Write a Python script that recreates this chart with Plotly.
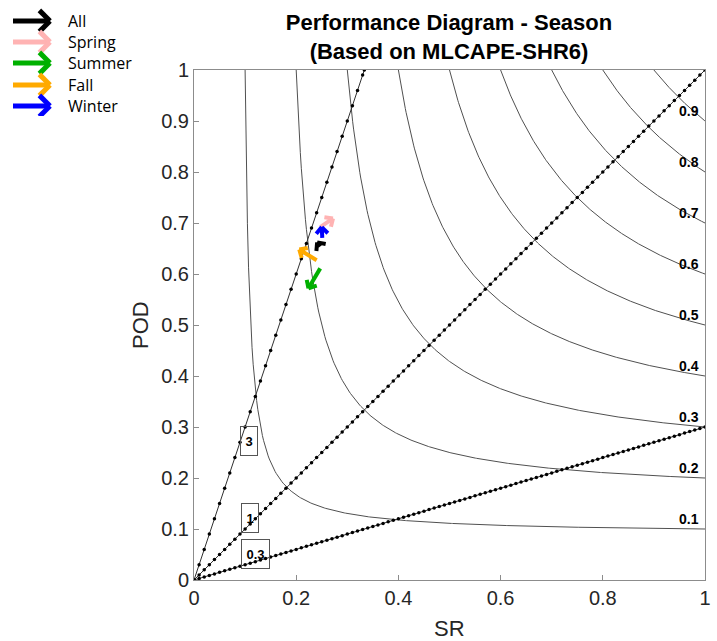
import numpy as np
import plotly.graph_objects as go

# ---------------- data ----------------
seasons = ["All", "Spring", "Summer", "Fall", "Winter"]
season_colors = ["#000000", "#ffb3b3", "#00b000", "#ffaa00", "#0000ff"]
sr_tail = [0.247, 0.247, 0.247, 0.240, 0.251]
pod_tail = [0.654, 0.692, 0.611, 0.627, 0.671]
sr_tip = [0.241, 0.272, 0.224, 0.206, 0.250]
pod_tip = [0.662, 0.709, 0.572, 0.648, 0.692]

csi_levels = [0.1, 0.2, 0.3, 0.4, 0.5, 0.6, 0.7, 0.8, 0.9]
csi_labels = ["0.1", "0.2", "0.3", "0.4", "0.5", "0.6", "0.7", "0.8", "0.9"]
bias_levels = [0.3, 1.0, 3.0]
bias_labels = ["0.3", "1", "3"]

x_tickvals = [0, 0.2, 0.4, 0.6, 0.8, 1]
x_ticktext = ["0", "0.2", "0.4", "0.6", "0.8", "1"]
y_tickvals = [0, 0.1, 0.2, 0.3, 0.4, 0.5, 0.6, 0.7, 0.8, 0.9, 1]
y_ticktext = ["0", "0.1", "0.2", "0.3", "0.4", "0.5", "0.6", "0.7", "0.8", "0.9", "1"]

# ---------------- figure ----------------
fig = go.Figure()

# CSI contours: POD = 1 / (1/CSI + 1 - 1/SR), from (CSI,1) to (1,CSI)
for c in csi_levels:
    sr = np.linspace(c, 1.0, 400)
    pod = 1.0 / (1.0 / c + 1.0 - 1.0 / sr)
    fig.add_trace(go.Scatter(x=sr, y=pod, mode="lines",
                             line=dict(color="#505050", width=1),
                             hoverinfo="skip", showlegend=False))

# bias lines: POD = bias * SR
for b in bias_levels:
    sr_max = min(1.0, 1.0 / b)
    sr = np.append(np.arange(0, sr_max, 0.01), sr_max)
    fig.add_trace(go.Scatter(x=sr, y=b * sr, mode="lines+markers",
                             line=dict(color="#303030", width=1),
                             marker=dict(color="#000000", size=3.5),
                             hoverinfo="skip", showlegend=False))

# arrows (shaft + chevron head)
def arrow_path(x0, y0, x1, y1, head, ang_deg=42):
    dx, dy = x1 - x0, y1 - y0
    n = np.hypot(dx, dy)
    ux, uy = dx / n, dy / n
    xs, ys = [x0, x1], [y0, y1]
    for s in (1, -1):
        a = np.radians(ang_deg) * s
        rx = ux * np.cos(a) - uy * np.sin(a)
        ry = ux * np.sin(a) + uy * np.cos(a)
        xs += [None, x1 - head * rx, x1]
        ys += [None, y1 - head * ry, y1]
    return xs, ys

for i, name in enumerate(seasons):
    xs, ys = arrow_path(sr_tail[i], pod_tail[i], sr_tip[i], pod_tip[i], 0.017)
    fig.add_trace(go.Scatter(x=xs, y=ys, mode="lines",
                             line=dict(color=season_colors[i], width=4),
                             hoverinfo="skip", showlegend=False))

# legend drawn in a pixel-unit overlay axis
leg_y = [21, 42, 63, 85, 106]
for i, name in enumerate(seasons):
    xs, ys = arrow_path(13, leg_y[i], 50, leg_y[i], 15, ang_deg=45)
    fig.add_trace(go.Scatter(x=xs, y=ys, mode="lines",
                             line=dict(color=season_colors[i], width=5),
                             xaxis="x2", yaxis="y2",
                             hoverinfo="skip", showlegend=False))
    fig.add_annotation(x=66, y=leg_y[i], xref="x2", yref="y2", text=name,
                       showarrow=False, xanchor="left", yanchor="middle",
                       font=dict(family="Open Sans", size=16, color="#000000"))

# CSI labels on the right
for c, lab in zip(csi_levels, csi_labels):
    fig.add_annotation(x=0.968, y=c + 0.019, text="<b>%s</b>" % lab,
                       showarrow=False, xanchor="center", yanchor="middle",
                       font=dict(family="Liberation Sans", size=14, color="#000000"))

# bias labels in boxes
bias_pos = {"3": (0.108, 0.2725), "1": (0.109, 0.121), "0.3": (0.121, 0.051)}
for lab in bias_labels:
    bx, by = bias_pos[lab]
    fig.add_annotation(x=bx, y=by, text="<b>%s</b>" % lab, showarrow=False,
                       xanchor="center", yanchor="middle",
                       font=dict(family="Liberation Sans", size=13, color="#000000"),
                       bordercolor="#555555", borderwidth=1, borderpad=3,
                       height=22, width=max(10, 7 * len(lab)),
                       bgcolor="rgba(255,255,255,0)")

# axis titles
fig.add_annotation(x=449 / 705, y=(580 - 628) / 580, xref="paper", yref="paper",
                   text="SR", showarrow=False, xanchor="center", yanchor="middle",
                   font=dict(family="Liberation Sans", size=22, color="#262626"))
fig.add_annotation(x=140 / 705, y=(580 - 325) / 580, xref="paper", yref="paper",
                   text="POD", showarrow=False, textangle=-90,
                   xanchor="center", yanchor="middle",
                   font=dict(family="Liberation Sans", size=22, color="#262626"))

axis_common = dict(showgrid=False, zeroline=False, showline=True, mirror=True,
                   linecolor="#8c8c8c", linewidth=1, ticks="inside", ticklen=5,
                   tickcolor="#8c8c8c", automargin=False,
                   tickfont=dict(family="Liberation Sans", size=20, color="#262626"))

fig.update_layout(
    width=717, height=641,
    margin=dict(l=0, r=12, t=0, b=61, autoexpand=False),
    paper_bgcolor="white", plot_bgcolor="white",
    title=dict(text="<b>Performance Diagram - Season<br>(Based on MLCAPE-SHR6)</b>",
               x=449 / 717, xanchor="center", y=1 - 30 / 641, yanchor="middle",
               yref="container", automargin=False,
               font=dict(family="Liberation Sans", size=22, color="#000000")),
    xaxis=dict(domain=[194 / 705, 1], range=[0, 1], tickvals=x_tickvals,
               ticktext=x_ticktext, **axis_common),
    yaxis=dict(domain=[0, 510 / 580], range=[0, 1], tickvals=y_tickvals,
               ticktext=y_ticktext, **axis_common),
    xaxis2=dict(domain=[0, 141 / 705], range=[0, 141], visible=False,
                anchor="y2", automargin=False),
    yaxis2=dict(domain=[(580 - 116) / 580, 1], range=[116, 0], visible=False,
                anchor="x2", automargin=False),
    showlegend=False,
)

fig.write_html("out.html")
